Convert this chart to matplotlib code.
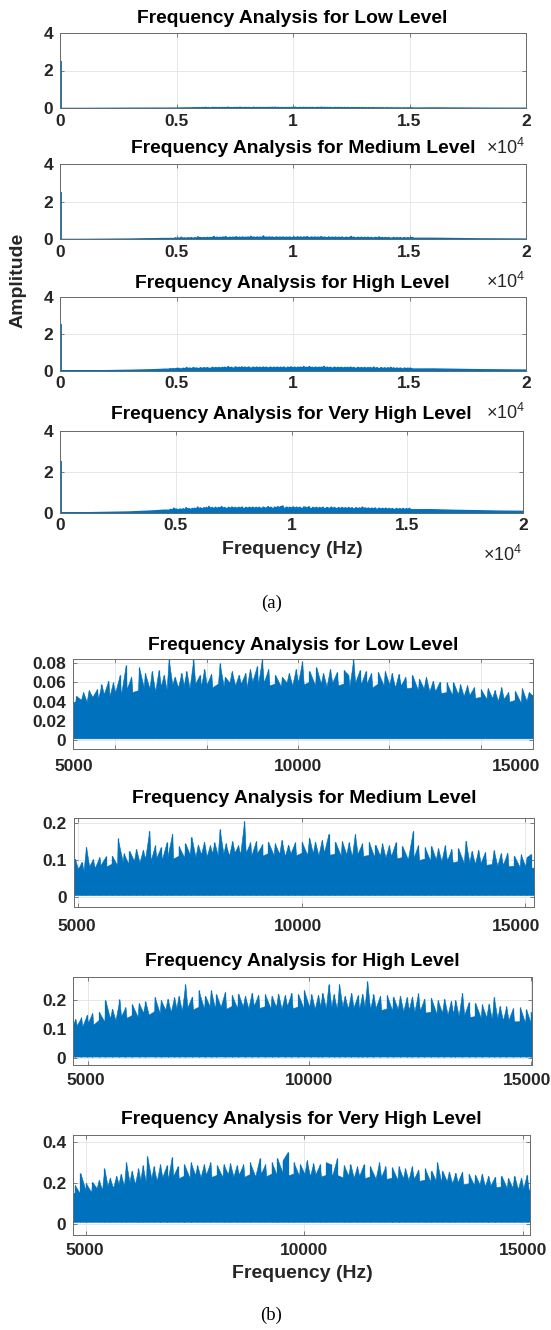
import matplotlib
matplotlib.use('Agg')
import matplotlib.pyplot as plt

plt.rcParams['font.family'] = ['Liberation Sans', 'DejaVu Sans']
plt.rcParams['font.weight'] = 'bold'
plt.rcParams['mathtext.fontset'] = 'custom'
plt.rcParams['mathtext.rm'] = 'Liberation Sans'

W, H = 551, 1330
BLUE = '#0072BD'
TXT = '#262626'

LEVELS = ['Low', 'Medium', 'High', 'Very High']

# ---------------- (a) full-range spectra (outside the 4.5-15.25 kHz band) ----------------
A_FREQ = [0, 1000, 2000, 3000, 4000, 16000, 17000, 18000, 19000, 20000]
A_ENV_LOW = [0.02, 0.02, 0.025, 0.03, 0.035, 0.045, 0.04, 0.035, 0.03, 0.03]
A_ENV_MED = [0.02, 0.02, 0.03, 0.04, 0.06, 0.08, 0.065, 0.05, 0.045, 0.04]
A_ENV_HIGH = [0.02, 0.02, 0.03, 0.05, 0.08, 0.12, 0.10, 0.08, 0.07, 0.06]
A_ENV_VHIGH = [0.02, 0.02, 0.04, 0.06, 0.11, 0.17, 0.14, 0.12, 0.10, 0.09]
DC_FREQ = 25
DC_AMP = [2.5, 2.5, 2.5, 2.5]
A_XTICKS = [0, 5000, 10000, 15000, 20000]
A_XTICKLABELS = ['0', '0.5', '1', '1.5', '2']
A_YTICKS = [0, 2, 4]

# ---------------- (b) zoomed spectra ----------------
B_ENV_FREQ = [4500, 4625, 4750, 4875, 5000, 5125, 5250, 5375, 5500, 5625,
              5750, 5875, 6000, 6125, 6250, 6375, 6500, 6625, 6750, 6875,
              7000, 7125, 7250, 7375, 7500, 7625, 7750, 7875, 8000, 8125,
              8250, 8375, 8500, 8625, 8750, 8875, 9000, 9125, 9250, 9375,
              9500, 9625, 9750, 9875, 10000, 10125, 10250, 10375, 10500, 10625,
              10750, 10875, 11000, 11125, 11250, 11375, 11500, 11625, 11750, 11875,
              12000, 12125, 12250, 12375, 12500, 12625, 12750, 12875, 13000, 13125,
              13250, 13375, 13500, 13625, 13750, 13875, 14000, 14125, 14250, 14375,
              14500, 14625, 14750, 14875, 15000, 15125, 15250]
B1_ENV = [0.034, 0.036, 0.035, 0.037, 0.036, 0.040, 0.042, 0.040, 0.045, 0.043,
          0.048, 0.046, 0.050, 0.047, 0.053, 0.050, 0.052, 0.055, 0.054, 0.051,
          0.056, 0.053, 0.058, 0.055, 0.057, 0.054, 0.059, 0.056, 0.058, 0.055,
          0.059, 0.056, 0.060, 0.057, 0.059, 0.055, 0.061, 0.058, 0.060, 0.057,
          0.059, 0.056, 0.060, 0.057, 0.060, 0.058, 0.061, 0.057, 0.059, 0.056,
          0.060, 0.057, 0.059, 0.056, 0.060, 0.058, 0.059, 0.055, 0.059, 0.057,
          0.058, 0.055, 0.057, 0.054, 0.055, 0.052, 0.054, 0.051, 0.051, 0.049,
          0.050, 0.047, 0.048, 0.046, 0.047, 0.044, 0.045, 0.043, 0.044, 0.041,
          0.043, 0.040, 0.042, 0.039, 0.041, 0.038, 0.039]
B2_ENV = [0.068, 0.066, 0.070, 0.068, 0.076, 0.072, 0.083, 0.079, 0.086, 0.082,
          0.090, 0.086, 0.095, 0.090, 0.098, 0.094, 0.104, 0.099, 0.106, 0.101,
          0.110, 0.104, 0.112, 0.107, 0.115, 0.109, 0.116, 0.110, 0.119, 0.113,
          0.118, 0.112, 0.121, 0.115, 0.120, 0.113, 0.118, 0.112, 0.119, 0.113,
          0.117, 0.111, 0.118, 0.113, 0.120, 0.114, 0.119, 0.113, 0.121, 0.114,
          0.118, 0.112, 0.116, 0.110, 0.117, 0.111, 0.114, 0.108, 0.112, 0.107,
          0.111, 0.105, 0.108, 0.102, 0.106, 0.100, 0.104, 0.098, 0.102, 0.097,
          0.099, 0.094, 0.097, 0.092, 0.094, 0.090, 0.092, 0.087, 0.089, 0.085,
          0.087, 0.083, 0.085, 0.081, 0.083, 0.079, 0.080]
B3_ENV = [0.108, 0.104, 0.113, 0.109, 0.122, 0.116, 0.132, 0.126, 0.137, 0.131,
          0.145, 0.139, 0.149, 0.143, 0.157, 0.150, 0.162, 0.155, 0.167, 0.160,
          0.172, 0.164, 0.175, 0.168, 0.177, 0.170, 0.179, 0.171, 0.177, 0.170,
          0.180, 0.172, 0.178, 0.171, 0.181, 0.173, 0.179, 0.172, 0.177, 0.170,
          0.180, 0.172, 0.178, 0.171, 0.177, 0.170, 0.179, 0.172, 0.177, 0.170,
          0.178, 0.171, 0.175, 0.168, 0.177, 0.169, 0.173, 0.166, 0.171, 0.164,
          0.169, 0.162, 0.167, 0.160, 0.164, 0.157, 0.160, 0.153, 0.157, 0.150,
          0.153, 0.146, 0.149, 0.142, 0.145, 0.139, 0.141, 0.135, 0.137, 0.131,
          0.132, 0.127, 0.127, 0.122, 0.122, 0.118, 0.117]
B4_ENV = [0.148, 0.143, 0.153, 0.147, 0.162, 0.155, 0.175, 0.167, 0.185, 0.176,
          0.195, 0.186, 0.205, 0.195, 0.214, 0.204, 0.222, 0.211, 0.228, 0.217,
          0.234, 0.223, 0.236, 0.225, 0.239, 0.228, 0.241, 0.229, 0.240, 0.229,
          0.242, 0.231, 0.241, 0.230, 0.243, 0.232, 0.244, 0.233, 0.246, 0.234,
          0.248, 0.236, 0.246, 0.235, 0.244, 0.233, 0.242, 0.231, 0.240, 0.229,
          0.238, 0.227, 0.236, 0.225, 0.234, 0.223, 0.232, 0.221, 0.229, 0.219,
          0.226, 0.216, 0.223, 0.213, 0.220, 0.210, 0.216, 0.206, 0.212, 0.203,
          0.208, 0.199, 0.203, 0.194, 0.198, 0.189, 0.193, 0.185, 0.188, 0.180,
          0.183, 0.175, 0.178, 0.170, 0.173, 0.166, 0.168]
B_FLOOR = [0.0017, 0.0045, 0.006, 0.011]

B1_SPIKES = [(5150, 0.046), (5300, 0.050), (5420, 0.052), (5600, 0.053), (5700, 0.058),
             (5850, 0.062), (5950, 0.060), (6100, 0.068), (6230, 0.078), (6350, 0.066),
             (6520, 0.076), (6650, 0.070), (6800, 0.072), (6950, 0.073), (7060, 0.068),
             (7170, 0.084), (7300, 0.066), (7450, 0.070), (7560, 0.072), (7710, 0.084),
             (7850, 0.068), (7950, 0.074), (8100, 0.069), (8285, 0.080), (8400, 0.066),
             (8550, 0.072), (8700, 0.068), (8850, 0.070), (8950, 0.074), (9100, 0.077),
             (9210, 0.084), (9350, 0.074), (9500, 0.068), (9650, 0.066), (9800, 0.070),
             (9950, 0.074), (10090, 0.082), (10250, 0.072), (10400, 0.076), (10550, 0.070),
             (10700, 0.074), (10850, 0.071), (11000, 0.073), (11100, 0.068), (11210, 0.084),
             (11350, 0.073), (11480, 0.072), (11600, 0.070), (11750, 0.071), (11900, 0.072),
             (12050, 0.070), (12200, 0.069), (12350, 0.066), (12500, 0.068), (12650, 0.064),
             (12800, 0.066), (12950, 0.062), (13100, 0.061), (13250, 0.060), (13400, 0.060),
             (13550, 0.058), (13700, 0.057), (13850, 0.055), (14000, 0.053), (14150, 0.054),
             (14300, 0.052), (14450, 0.055), (14600, 0.050), (14750, 0.051), (14900, 0.054),
             (15050, 0.050), (15120, 0.047)]
B2_SPIKES = [(4930, 0.104), (5080, 0.095), (5180, 0.136), (5330, 0.102), (5480, 0.108),
             (5620, 0.110), (5760, 0.112), (5888, 0.159), (6020, 0.118), (6150, 0.125),
             (6300, 0.130), (6450, 0.128), (6594, 0.180), (6720, 0.140), (6850, 0.135),
             (6980, 0.148), (7106, 0.172), (7250, 0.138), (7400, 0.145), (7537, 0.163),
             (7680, 0.142), (7820, 0.150), (7950, 0.140), (8050, 0.148), (8166, 0.184),
             (8300, 0.145), (8450, 0.152), (8580, 0.140), (8716, 0.206), (8850, 0.148),
             (8980, 0.152), (9120, 0.143), (9250, 0.150), (9400, 0.145), (9550, 0.155),
             (9700, 0.142), (9850, 0.148), (10000, 0.150), (10169, 0.161), (10300, 0.150),
             (10450, 0.155), (10601, 0.172), (10750, 0.150), (10900, 0.152), (11050, 0.148),
             (11190, 0.171), (11350, 0.145), (11500, 0.150), (11650, 0.142), (11800, 0.145),
             (11950, 0.140), (12100, 0.148), (12250, 0.138), (12487, 0.180), (12600, 0.140),
             (12750, 0.135), (12900, 0.138), (13050, 0.132), (13200, 0.140), (13350, 0.130),
             (13500, 0.132), (13665, 0.153), (13800, 0.125), (13950, 0.128), (14100, 0.122),
             (14293, 0.127), (14450, 0.118), (14600, 0.120), (14750, 0.112), (14900, 0.115),
             (15030, 0.108), (15119, 0.116)]
B3_SPIKES = [(4720, 0.135), (4850, 0.140), (4980, 0.150), (5100, 0.155), (5250, 0.160),
             (5397, 0.200), (5550, 0.170), (5715, 0.202), (5850, 0.175), (6000, 0.185),
             (6150, 0.190), (6300, 0.195), (6508, 0.211), (6650, 0.200), (6800, 0.205),
             (6950, 0.210), (7050, 0.215), (7200, 0.254), (7350, 0.212), (7500, 0.234),
             (7650, 0.215), (7778, 0.234), (7900, 0.220), (8096, 0.228), (8250, 0.218),
             (8400, 0.222), (8550, 0.215), (8700, 0.225), (8850, 0.218), (9000, 0.220),
             (9150, 0.215), (9300, 0.222), (9450, 0.218), (9600, 0.225), (9750, 0.220),
             (9880, 0.234), (10050, 0.220), (10200, 0.218), (10300, 0.225), (10436, 0.254),
             (10550, 0.220), (10675, 0.254), (10800, 0.215), (10950, 0.225), (11100, 0.218),
             (11200, 0.222), (11310, 0.264), (11450, 0.220), (11600, 0.215), (11750, 0.218),
             (11900, 0.212), (12050, 0.215), (12200, 0.210), (12320, 0.212), (12459, 0.223),
             (12600, 0.205), (12750, 0.208), (12900, 0.200), (13050, 0.205), (13200, 0.198),
             (13300, 0.200), (13452, 0.225), (13600, 0.192), (13750, 0.190), (13900, 0.185),
             (14050, 0.188), (14167, 0.211), (14300, 0.180), (14450, 0.178), (14600, 0.172),
             (14761, 0.175), (14900, 0.168), (15000, 0.160)]
B4_SPIKES = [(4750, 0.190), (4880, 0.247), (5000, 0.200), (5150, 0.205), (5300, 0.215),
             (5426, 0.270), (5550, 0.225), (5700, 0.235), (5800, 0.245), (5923, 0.300),
             (6050, 0.260), (6200, 0.270), (6300, 0.285), (6405, 0.330), (6550, 0.280),
             (6700, 0.290), (6850, 0.285), (6967, 0.325), (7100, 0.280), (7250, 0.290),
             (7400, 0.300), (7550, 0.285), (7700, 0.290), (7850, 0.300), (8000, 0.285),
             (8150, 0.290), (8300, 0.295), (8450, 0.285), (8600, 0.290), (8750, 0.300),
             (8974, 0.320), (9100, 0.290), (9250, 0.300), (9376, 0.320), (9500, 0.310),
             (9616, 0.350), (9750, 0.300), (9900, 0.290), (10050, 0.310), (10200, 0.295),
             (10350, 0.290), (10500, 0.300), (10600, 0.290), (10741, 0.320), (10900, 0.285),
             (11050, 0.290), (11200, 0.280), (11350, 0.290), (11500, 0.280), (11705, 0.300),
             (11850, 0.280), (12000, 0.275), (12150, 0.280), (12300, 0.270), (12450, 0.280),
             (12600, 0.265), (12750, 0.270), (12900, 0.260), (13031, 0.300), (13150, 0.260),
             (13300, 0.255), (13450, 0.250), (13600, 0.255), (13750, 0.245), (13900, 0.240),
             (14050, 0.245), (14200, 0.235), (14350, 0.230), (14500, 0.235), (14650, 0.225),
             (14797, 0.235), (14950, 0.225), (15076, 0.240)]

B_XLIM = [(5083, 15149), (4906, 15195), (4668, 15038), (4717, 15153)]
B_YLIM = [(-0.0094, 0.0842), (-0.029, 0.2153), (-0.023, 0.28), (-0.053, 0.4325)]
B_GRID_X = [[6000, 8000, 10000, 12000, 14000], [5000, 10000, 15000],
            [5000, 10000, 15000], [5000, 10000, 15000]]
B_XLABELS = ['5000', '10000', '15000']
B_XLABEL_POS = [[5098, 10000, 14770], [4969, 9918, 14803],
                [4960, 10000, 14920], [4975, 10000, 15000]]
B_YTICKS = [[0, 0.02, 0.04, 0.06, 0.08], [0, 0.1, 0.2], [0, 0.1, 0.2], [0, 0.2, 0.4]]
B_YTICKLABELS = [['0', '0.02', '0.04', '0.06', '0.08'], ['0', '0.1', '0.2'],
                 ['0', '0.1', '0.2'], ['0', '0.2', '0.4']]

# ---------------- layout (pixels) ----------------
A_BOX = [(60, 32.7, 526, 108.3), (60, 164.3, 526, 239.3),
         (60, 296.7, 526, 370.7), (60, 430.7, 523, 512.7)]
A_TITLE_XY = [(292, 18.3), (303, 148.3), (292, 283.3), (291, 415)]
A_EXP_XY = [(525, 148), (525, 282), (525, 413), (522, 555)]
B_BOX = [(73.3, 659.3, 533.3, 749), (73.8, 817.7, 534, 907.3),
         (73.1, 976.7, 532.3, 1065), (73.3, 1135, 530, 1235)]
B_TITLE_Y = [645, 798.3, 961.7, 1120]
B_XLABEL_OFF = [19.3, 21.0, 16.7, 16.7]

fig = plt.figure(figsize=(W / 100, H / 100), dpi=100)


def px(x, y):
    return x / W, 1 - y / H


def add_ax(box):
    l, t, r, b = box
    return fig.add_axes([l / W, 1 - b / H, (r - l) / W, (b - t) / H])


def style(ax):
    ax.set_facecolor('white')
    for s in ax.spines.values():
        s.set_color('#6a6a6a')
        s.set_linewidth(0.7)
    ax.grid(True, color='#e3e3e3', linewidth=0.6)
    ax.set_axisbelow(True)
    ax.tick_params(direction='in', length=3, width=0.6, colors='#6a6a6a',
                   top=True, right=True, labelsize=12.5, labelcolor=TXT)


def band_outline(env, spikes):
    # dense-spectrum outline: envelope points and spike tips ordered by frequency
    pts = sorted(list(zip(B_ENV_FREQ, env)) + list(spikes))
    return [p[0] for p in pts], [p[1] for p in pts]


a_envs = [A_ENV_LOW, A_ENV_MED, A_ENV_HIGH, A_ENV_VHIGH]
b_envs = [B1_ENV, B2_ENV, B3_ENV, B4_ENV]
b_spikes = [B1_SPIKES, B2_SPIKES, B3_SPIKES, B4_SPIKES]

for i in range(4):
    ax = add_ax(A_BOX[i])
    style(ax)
    bf, bv = band_outline(b_envs[i], b_spikes[i])
    pts = sorted(list(zip(A_FREQ, a_envs[i])) + list(zip(bf, bv)))
    ax.fill_between([p[0] for p in pts], 0, [p[1] for p in pts], color=BLUE,
                    linewidth=1.0, edgecolor=BLUE)
    ax.vlines([DC_FREQ], 0, [DC_AMP[i]], color=BLUE, linewidth=1.3)
    ax.set_xlim(0, 20000)
    ax.set_ylim(0, 4)
    ax.set_xticks(A_XTICKS)
    ax.set_xticklabels(A_XTICKLABELS)
    ax.set_yticks(A_YTICKS)
    ax.tick_params(axis='x', pad=4.0)
    ax.tick_params(axis='y', pad=5)
    fig.text(*px(*A_TITLE_XY[i]), f'Frequency Analysis for {LEVELS[i]} Level',
             ha='center', va='center', fontsize=13.9, color='black')
    fig.text(*px(*A_EXP_XY[i]), r'$\mathregular{\times10^{4}}$', ha='right',
             va='center', fontsize=13, fontweight='normal', color=TXT)

fig.text(*px(18, 280), 'Amplitude', rotation=90, ha='center', va='center',
         fontsize=14, color=TXT)
fig.text(*px(292, 549.3), 'Frequency (Hz)', ha='center', va='center',
         fontsize=14, color=TXT)
fig.text(*px(272, 603), '(a)', ha='center', va='center', fontsize=13.5,
         fontweight='normal', family=['Liberation Serif'], color='black')

for i in range(4):
    ax = add_ax(B_BOX[i])
    style(ax)
    bf, bv = band_outline(b_envs[i], b_spikes[i])
    ax.fill_between(bf, B_FLOOR[i], bv, color=BLUE, linewidth=0.4, edgecolor=BLUE)
    sf = [p[0] for p in b_spikes[i]]
    sa = [p[1] for p in b_spikes[i]]
    ax.vlines(sf, B_FLOOR[i], sa, color=BLUE, linewidth=0.9)
    ax.set_xlim(*B_XLIM[i])
    ax.set_ylim(*B_YLIM[i])
    ax.set_xticks(B_GRID_X[i])
    ax.set_xticklabels([])
    ax.set_yticks(B_YTICKS[i])
    ax.set_yticklabels(B_YTICKLABELS[i])
    ax.tick_params(axis='y', pad=5)
    hpx = B_BOX[i][3] - B_BOX[i][1]
    for lbl, xv in zip(B_XLABELS, B_XLABEL_POS[i]):
        ax.text(xv, -(B_XLABEL_OFF[i] - 1.5) / hpx, lbl, transform=ax.get_xaxis_transform(),
                ha='center', va='center', fontsize=12.5, color=TXT, clip_on=False)
    cx = (B_BOX[i][0] + B_BOX[i][2]) / 2
    fig.text(*px(cx, B_TITLE_Y[i]), f'Frequency Analysis for {LEVELS[i]} Level',
             ha='center', va='center', fontsize=13.9, color='black')

fig.text(*px(302, 1273.3), 'Frequency (Hz)', ha='center', va='center',
         fontsize=14, color=TXT)
fig.text(*px(271, 1315), '(b)', ha='center', va='center', fontsize=13.5,
         fontweight='normal', family=['Liberation Serif'], color='black')

fig.savefig('out.png', dpi=100)
